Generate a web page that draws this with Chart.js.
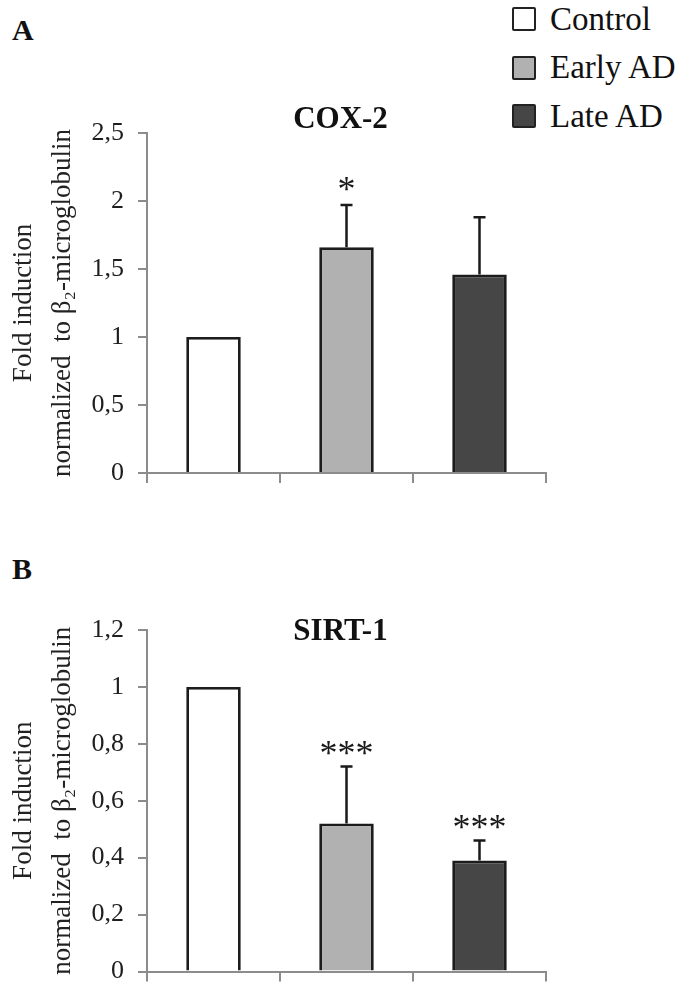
<!DOCTYPE html>
<html>
<head>
<meta charset="utf-8">
<script src="https://cdn.jsdelivr.net/npm/chart.js@4.4.0/dist/chart.umd.min.js"></script>
<style>
  html, body { margin: 0; padding: 0; background: #fff; width: 683px; height: 984px; overflow: hidden; font-family: 'Liberation Serif', serif; }
  .panel { position: absolute; left: 12px; font-weight: bold; font-size: 30px; line-height: 1; color: #111; }
  #legend { position: absolute; left: 512px; top: 7px; }
  .item { position: relative; height: 48.5px; }
  .box { position: absolute; left: 0; top: 0; width: 20px; height: 20px; border: 2.5px solid #222; border-radius: 2px; }
  .lab { position: absolute; left: 38px; top: -6.5px; font-size: 33px; line-height: 37px; color: #111; white-space: nowrap; }
  canvas { position: absolute; left: 0; }
</style>
</head>
<body>
<div class="panel" style="top:15px">A</div>
<div class="panel" style="top:554px">B</div>
<div id="legend"></div>
<canvas id="coxChart" width="683" height="500" style="top:0"></canvas>
<canvas id="sirtChart" width="683" height="500" style="top:500px"></canvas>
<script>
// data
const categories = ['Control', 'Early AD', 'Late AD'];
const barColors = ['#ffffff', '#b1b1b1', '#464646'];

const coxValues = [1, 1.66, 1.46];
const coxErrors = [0, 0.31, 0.42];
const coxMarks = ['', '*', ''];
const coxTicks = [0, 0.5, 1, 1.5, 2, 2.5];

const sirtValues = [1, 0.52, 0.39];
const sirtErrors = [0, 0.2, 0.07];
const sirtMarks = ['', '***', '***'];
const sirtTicks = [0, 0.2, 0.4, 0.6, 0.8, 1, 1.2];

const yTitle = ['Fold induction', 'normalized  to \u03B2\u2082-microglobulin'];

const serif = "'Liberation Serif', 'Times New Roman', serif";
const axisGray = '#8c8c8c';

// legend
const legend = document.getElementById('legend');
categories.forEach((name, i) => {
  const item = document.createElement('div');
  item.className = 'item';
  item.innerHTML = `<div class="box" style="background:${barColors[i]}"></div><div class="lab">${name}</div>`;
  legend.appendChild(item);
});

// error bars, significance marks and chart title
const extras = {
  id: 'extras',
  afterDatasetsDraw(chart, args, opts) {
    const ctx = chart.ctx;
    const yScale = chart.scales.y;
    const meta = chart.getDatasetMeta(0);
    const values = chart.data.datasets[0].data;
    ctx.save();
    meta.data.forEach((bar, i) => {
      const top = yScale.getPixelForValue(values[i] + opts.errors[i]);
      if (opts.errors[i] > 0) {
        ctx.strokeStyle = '#1a1a1a';
        ctx.lineWidth = 2.5;
        ctx.beginPath();
        ctx.moveTo(bar.x, bar.y);
        ctx.lineTo(bar.x, top);
        ctx.moveTo(bar.x - 6, top);
        ctx.lineTo(bar.x + 6, top);
        ctx.stroke();
      }
      if (opts.marks[i]) {
        ctx.fillStyle = '#1a1a1a';
        ctx.font = '36px ' + serif;
        ctx.textAlign = 'center';
        ctx.textBaseline = 'alphabetic';
        ctx.fillText(opts.marks[i], bar.x, top + opts.markOffset);
      }
    });
    const area = chart.chartArea;
    ctx.font = 'bold 31px ' + serif;
    ctx.fillStyle = '#111';
    ctx.textAlign = 'center';
    ctx.textBaseline = 'alphabetic';
    ctx.fillText(opts.title, (area.left + area.right) / 2 - 6, area.top + opts.titleOffset);
    ctx.restore();
  }
};

function makeChart(id, values, errors, marks, ticks, title, padding, titleOffset, markOffset) {
  return new Chart(document.getElementById(id), {
    type: 'bar',
    data: {
      labels: categories,
      datasets: [{
        data: values,
        backgroundColor: barColors,
        borderColor: '#1c1c1c',
        borderWidth: 2.8,
        barPercentage: 0.41,
        categoryPercentage: 1
      }]
    },
    options: {
      responsive: false,
      animation: false,
      layout: { padding: padding },
      scales: {
        x: {
          ticks: { display: false },
          grid: { offset: true, drawOnChartArea: false, drawTicks: true, tickLength: 10, color: axisGray, lineWidth: 2 },
          border: { color: axisGray, width: 2 },
          afterFit: s => { s.height = 10; }
        },
        y: {
          min: ticks[0],
          max: ticks[ticks.length - 1],
          afterBuildTicks: s => { s.ticks = ticks.map(v => ({ value: v })); },
          ticks: {
            font: { family: serif, size: 26, lineHeight: 1 },
            color: '#1e1e1e',
            padding: 14,
            callback: v => String(Math.round(v * 10) / 10).replace('.', ',')
          },
          grid: { drawOnChartArea: false, drawTicks: true, tickLength: 9, color: axisGray, lineWidth: 2 },
          border: { color: axisGray, width: 2 },
          title: {
            display: true,
            text: yTitle,
            color: '#222',
            font: { family: serif, size: 27, lineHeight: 1.45 },
            padding: { top: 4, bottom: 0 }
          },
          afterFit: s => { s.width = 147; }
        }
      },
      plugins: {
        legend: { display: false },
        tooltip: { enabled: false },
        extras: { errors: errors, marks: marks, title: title, titleOffset: titleOffset, markOffset: markOffset }
      }
    },
    plugins: [extras]
  });
}

makeChart('coxChart', coxValues, coxErrors, coxMarks, coxTicks, 'COX-2',
  { top: 133, right: 137, bottom: 15, left: 0 }, -5, -4);
makeChart('sirtChart', sirtValues, sirtErrors, sirtMarks, sirtTicks, 'SIRT-1',
  { top: 130, right: 137, bottom: 18.5, left: 0 }, 10, -2);
</script>
</body>
</html>
